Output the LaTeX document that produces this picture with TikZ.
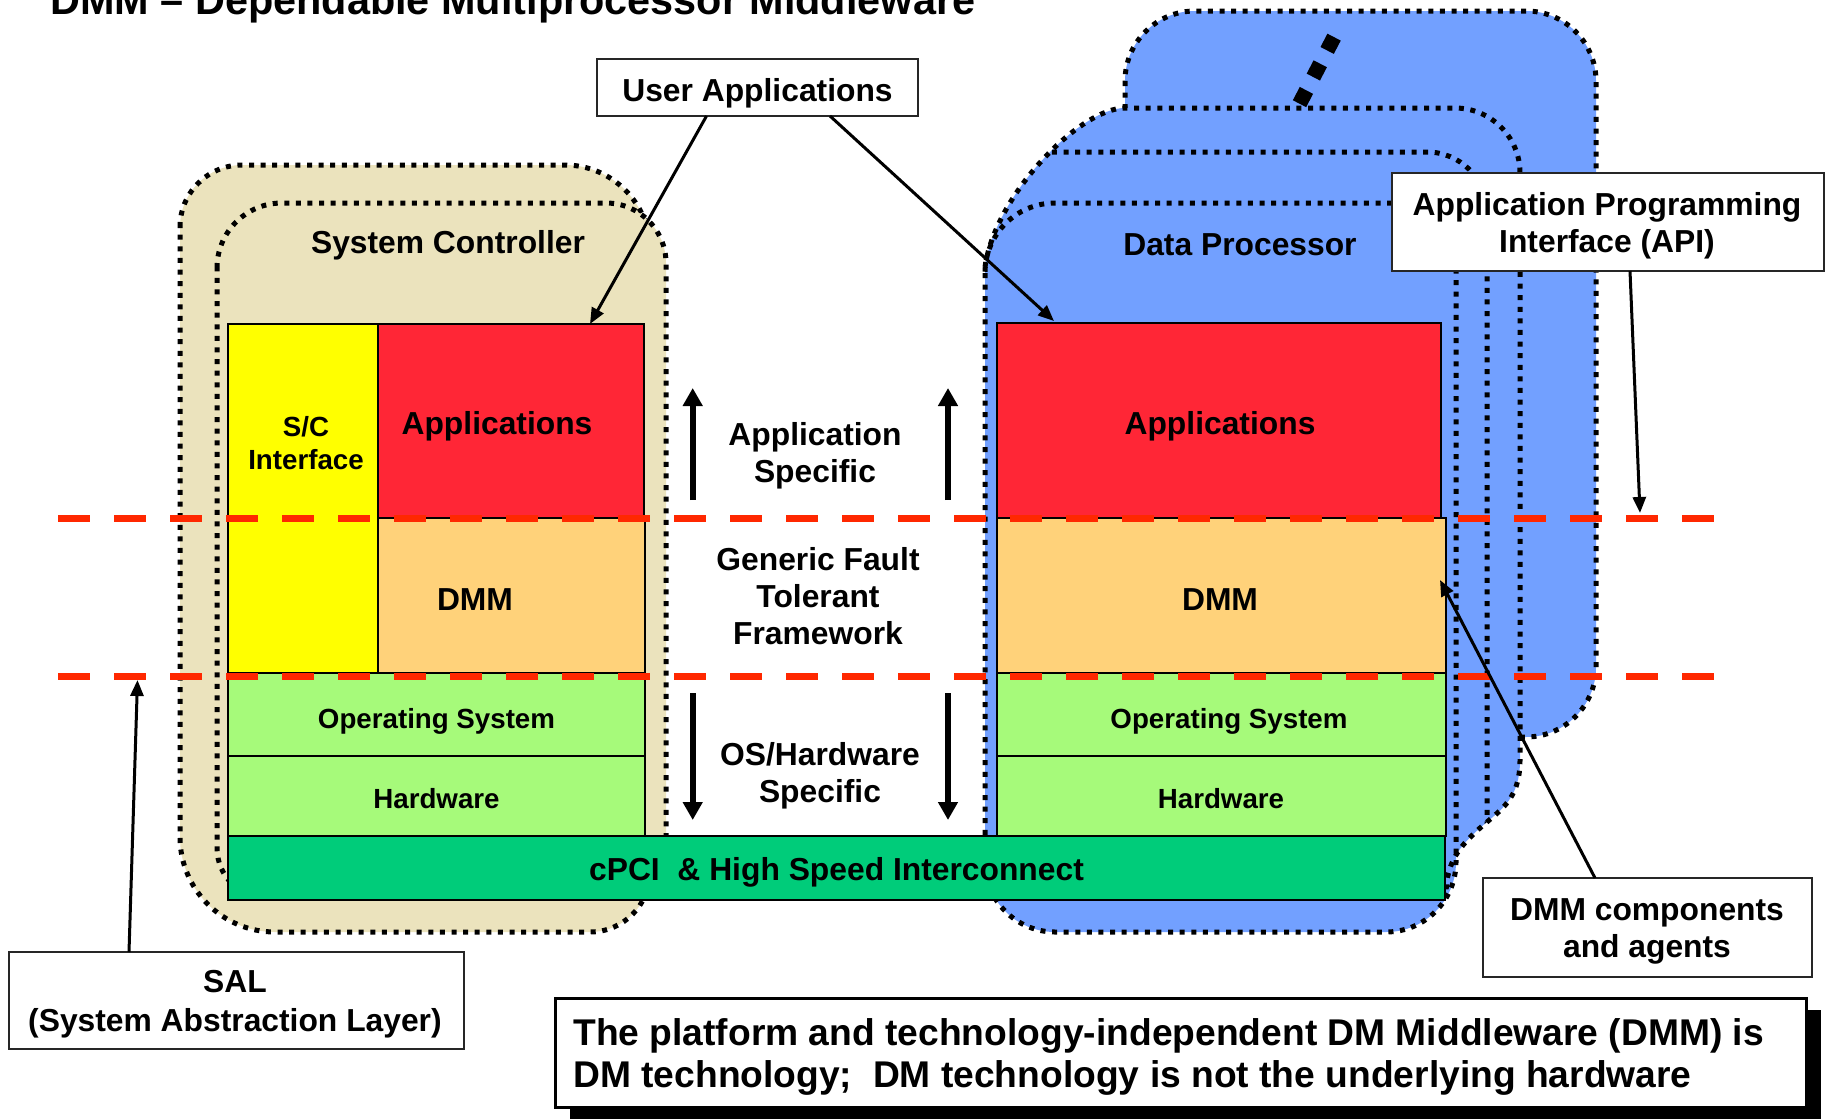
\documentclass[tikz,border=0pt]{standalone}
\usepackage{fontspec}
\setmainfont{Liberation Sans}
\usetikzlibrary{arrows.meta}
\definecolor{sctan}{RGB}{235,227,189}
\definecolor{dpblue}{RGB}{114,160,255}
\definecolor{appred}{RGB}{255,38,54}
\definecolor{dmmorange}{RGB}{255,210,122}
\definecolor{scyellow}{RGB}{255,255,0}
\definecolor{osgreen}{RGB}{166,250,122}
\definecolor{busgreen}{RGB}{0,204,122}
\definecolor{dashred}{RGB}{255,40,0}
\newcommand\dmmMain{\fontsize{15.9pt}{18.5pt}\selectfont\bfseries}
\newcommand\dmmSmall{\fontsize{13.85pt}{16.5pt}\selectfont\bfseries}
\newcommand\dmmTitle{\fontsize{20.7pt}{24pt}\selectfont\bfseries}
\newcommand\dmmBottom{\fontsize{18.6pt}{21pt}\selectfont\bfseries}
\newcommand\dmmSal{\fontsize{15.9pt}{19.5pt}\selectfont\bfseries}
\begin{document}
\begin{tikzpicture}[x=0.5pt,y=-0.5pt,
  dotbox/.style={draw=black, line width=2.5pt, dash pattern=on 2.5pt off 3.3pt},
  layer/.style={draw=black, line width=0.9pt, inner sep=0pt, outer sep=0pt},
  txt/.style={font=\dmmMain, align=center, inner sep=0pt},
  stxt/.style={font=\dmmSmall, align=center, inner sep=0pt},
  callbox/.style={draw=black!85, fill=white, line width=1pt, inner sep=0pt, outer sep=0pt},
  callarrow/.style={line width=1.5pt, -{Triangle[length=8pt,width=6.5pt]}},
  bigarrow/.style={line width=3pt, -{Triangle[length=9pt,width=9.5pt]}},
  reddash/.style={draw=dashred, line width=3.5pt, dash pattern=on 16pt off 12pt}]
\useasboundingbox (0,0) rectangle (1825,1119);

% ---------------- System Controller containers ----------------
\draw[dotbox, fill=sctan] (180,227) .. controls (180,192.8) and (207.8,165) .. (242,165)
  -- (565,165) .. controls (611.9,165) and (650,203.1) .. (650,250)
  -- (650,872) .. controls (650,905.1) and (623.1,932) .. (590,932)
  -- (275,932) .. controls (222.5,932) and (180,889.5) .. (180,837) -- cycle;
\draw[dotbox, fill=sctan] (217,268) .. controls (217,232.1) and (246.1,203) .. (282,203)
  -- (606,203) .. controls (639.1,203) and (666,229.9) .. (666,263)
  -- (666,858) .. controls (666,880.1) and (648.1,898) .. (626,898)
  -- (267,898) .. controls (239.4,898) and (217,875.6) .. (217,848) -- cycle;

% ---------------- Data Processor stack ----------------
\draw[dotbox, fill=dpblue, rounded corners=35pt] (1125,11) rectangle (1596,737);
\path[fill=dpblue] (985,290) -- (985,267) .. controls (995,195) and (1080,108) .. (1125,108)
  -- (1455,108) .. controls (1490.9,108) and (1520,137.1) .. (1520,173)
  -- (1520,760) .. controls (1520,800) and (1500,810) .. (1480,828)
  .. controls (1460,846) and (1446,862) .. (1446,895) -- (1446,860) -- (985,860) -- cycle;
\begin{scope}
  \clip (985,290) -- (985,267) .. controls (995,195) and (1080,108) .. (1125,108)
  -- (1455,108) .. controls (1490.9,108) and (1520,137.1) .. (1520,173)
  -- (1520,760) .. controls (1520,800) and (1500,810) .. (1480,828)
  .. controls (1460,846) and (1446,862) .. (1446,895) -- (1446,860) -- (985,860) -- cycle;
  \draw[dotbox, rounded corners=30pt] (985,152) rectangle (1487,932);
\end{scope}
\draw[dotbox, fill=dpblue, rounded corners=35pt] (985,203) rectangle (1456,932);
\draw[dotbox] (985,267) .. controls (995,195) and (1080,108) .. (1125,108)
  -- (1455,108) .. controls (1490.9,108) and (1520,137.1) .. (1520,173)
  -- (1520,760) .. controls (1520,800) and (1500,810) .. (1480,828)
  .. controls (1460,846) and (1446,862) .. (1446,895);
\draw[line width=7.5pt, dash pattern=on 7.5pt off 7.5pt] (1299.5,103.7) -- (1334.5,36.3);

% ---------------- Layers: System Controller ----------------
\node[layer, fill=scyellow, minimum width=75pt, minimum height=174.5pt] (scif) at (303,498.5) {};
\node[layer, fill=appred, minimum width=133pt, minimum height=97pt] (scapp) at (511,421) {};
\node[layer, fill=dmmorange, minimum width=133.5pt, minimum height=77.5pt] (scdmm) at (511.5,595.5) {};
\node[layer, fill=osgreen, minimum width=208.5pt, minimum height=41.5pt] (scos) at (436.5,714.5) {};
\node[layer, fill=osgreen, minimum width=208.5pt, minimum height=40pt] (schw) at (436.5,796) {};
\node[stxt] (sciftxt) at (306,443) {S/C\\Interface};
\node[txt] (scapptxt) at (497,426) {Applications};
\node[txt] (scdmmtxt) at (475,600) {DMM};
\node[stxt] (scostxt) at (436.5,721) {Operating System};
\node[stxt] (schwtxt) at (436.5,798.5) {Hardware};

% ---------------- Layers: Data Processor ----------------
\node[layer, fill=appred, minimum width=222pt, minimum height=97.5pt] (dpapp) at (1219,420.5) {};
\node[layer, fill=dmmorange, minimum width=224.5pt, minimum height=77.5pt] (dpdmm) at (1221.5,595.5) {};
\node[layer, fill=osgreen, minimum width=224.5pt, minimum height=41.5pt] (dpos) at (1221.5,714.5) {};
\node[layer, fill=osgreen, minimum width=224.5pt, minimum height=40pt] (dphw) at (1221.5,796) {};
\node[txt] (dpapptxt) at (1220,426.5) {Applications};
\node[txt] (dpdmmtxt) at (1220,600) {DMM};
\node[stxt] (dpostxt) at (1229,721) {Operating System};
\node[stxt] (dphwtxt) at (1221,798.5) {Hardware};

% ---------------- Interconnect ----------------
\node[layer, fill=busgreen, minimum width=608.5pt, minimum height=32pt] (cpci) at (836.5,868) {};
\node[txt] (cpcitxt) at (836.5,872.5) {cPCI\ \ \& High Speed Interconnect};

% ---------------- Titles and middle texts ----------------
\node[txt] (sctitle) at (448,245.5) {System Controller};
\node[txt] (dptitle) at (1240,244.5) {Data Processor};
\node[txt] (appspec) at (815,456) {Application\\Specific};
\node[txt] (gftf) at (818,596.5) {Generic Fault\\Tolerant\\Framework};
\node[txt] (oshwspec) at (820,776) {OS/Hardware\\Specific};

% ---------------- Red dashed boundaries ----------------
\draw[reddash] (58,518) -- (1715,518);
\draw[reddash] (58,676) -- (1715,676);

% ---------------- Middle arrows ----------------
\coordinate (lu0) at (692.7,500); \coordinate (lu1) at (692.7,388);
\coordinate (ru0) at (948,500);   \coordinate (ru1) at (948,388);
\coordinate (ld0) at (692.7,693); \coordinate (ld1) at (692.7,820);
\coordinate (rd0) at (948,693);   \coordinate (rd1) at (948,820);
\draw[bigarrow] (lu0) -- (lu1);
\draw[bigarrow] (ru0) -- (ru1);
\draw[bigarrow] (ld0) -- (ld1);
\draw[bigarrow] (rd0) -- (rd1);

% ---------------- Callouts ----------------
\node[callbox, minimum width=160.5pt, minimum height=28.5pt] (userapp) at (757.5,87.5) {};
\node[txt] (userapptxt) at (757.5,93.5) {User Applications};
\node[callbox, minimum width=216pt, minimum height=49pt] (api) at (1608,222) {};
\node[txt] (apitxt) at (1607,226) {Application Programming\\Interface (API)};
\node[callbox, minimum width=164.5pt, minimum height=49.5pt] (dmmc) at (1647.5,927.5) {};
\node[txt] (dmmctxt) at (1647,931.5) {DMM components\\and agents};
\node[callbox, minimum width=227.5pt, minimum height=48.5pt] (sal) at (236.5,1000.5) {};
\node[txt, font=\dmmSal] (saltxt) at (235,1004.5) {SAL\\(System Abstraction Layer)};

\coordinate (uatipL) at (590,324);
\coordinate (uatipR) at (1054,321);
\coordinate (apitip) at (1640,513);
\coordinate (dmmtip) at (1440,580);
\coordinate (saltip) at (137.5,680);
\draw[callarrow] ([xshift=-25.5pt]userapp.south) -- (uatipL);
\draw[callarrow] ([xshift=36.25pt]userapp.south) -- (uatipR);
\draw[callarrow] ([xshift=11pt]api.south) -- (apitip);
\draw[callarrow] ([xshift=-26.25pt]dmmc.north) -- (dmmtip);
\draw[callarrow] ([xshift=-53.75pt]sal.north) -- (saltip);

% ---------------- Statement box ----------------
\fill[black] (570,1010) rectangle (1821,1119);
\node[draw=black, line width=1.5pt, fill=white, minimum width=625.5pt, minimum height=54.5pt, inner sep=0pt] (stmt) at (1180.5,1052.5) {};
\node[anchor=west, align=left, font=\dmmBottom, inner sep=0pt] (stmttxt) at (573,1057) {The platform and technology-independent DM Middleware (DMM) is\\DM technology;\ \ DM technology is not the underlying hardware};

% ---------------- Title ----------------
\node[anchor=base west, font=\dmmTitle, inner sep=0pt] (title) at (50,14) {DMM – Dependable Multiprocessor Middleware};
\end{tikzpicture}
\end{document}
